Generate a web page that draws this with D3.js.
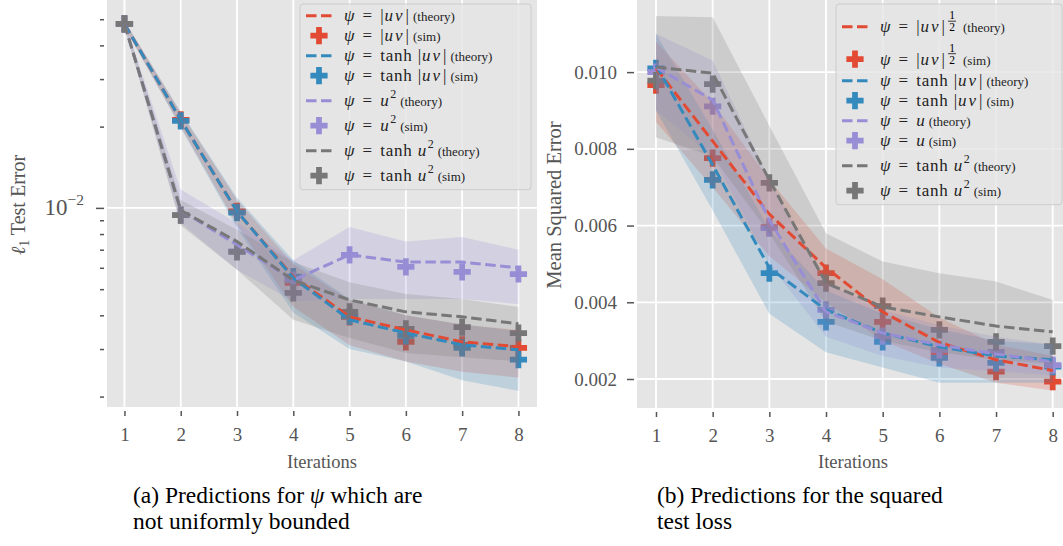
<!DOCTYPE html>
<html>
<head>
<meta charset="utf-8">
<script src="https://cdnjs.cloudflare.com/ajax/libs/d3/7.8.5/d3.min.js"></script>
<style>
body { margin: 0; background: #fff; }
text { font-family: "Liberation Serif", "Times New Roman", serif; }
</style>
</head>
<body>
<script>
var iterations = [1, 2, 3, 4, 5, 6, 7, 8];
var colors = ["#E24A33", "#348ABD", "#988ED5", "#777777"];

// (a) l1 test error, series order: |uv|, tanh|uv|, u^2, tanh u^2
var leftExpr = ["|uv|", "tanh |uv|", "u", "tanh u"];
var leftSup = ["", "", "2", "2"];
var leftTheory = [
    [0.0480, 0.0212, 0.0097, 0.00555, 0.00395, 0.00353, 0.00319, 0.00306],
    [0.0480, 0.0212, 0.0097, 0.0055, 0.00385, 0.00344, 0.00311, 0.00298],
    [0.0480, 0.0098, 0.0073, 0.0054, 0.0067, 0.0063, 0.0063, 0.0060],
    [0.0480, 0.0098, 0.0075, 0.0054, 0.00456, 0.00412, 0.00395, 0.00372]
];
var leftSim = [
    [0.0480, 0.0212, 0.0097, 0.00527, 0.00395, 0.00319, 0.00311, 0.00303],
    [0.0480, 0.0210, 0.0096, 0.00556, 0.00396, 0.00336, 0.00303, 0.00274],
    [0.0480, 0.0094, 0.0069, 0.0054, 0.0067, 0.00605, 0.00579, 0.00569],
    [0.0480, 0.0094, 0.00687, 0.00484, 0.00412, 0.00356, 0.00362, 0.00344]
];
var leftLo = [
    [0.0468, 0.0200, 0.00865, 0.0043, 0.0031, 0.0027, 0.00247, 0.00235],
    [0.0468, 0.0198, 0.0084, 0.0041, 0.0030, 0.0027, 0.0023, 0.0021],
    [0.0468, 0.0088, 0.0059, 0.0045, 0.0046, 0.0046, 0.0046, 0.0044],
    [0.0468, 0.0086, 0.0059, 0.00385, 0.0033, 0.0029, 0.0028, 0.0027]
];
var leftHi = [
    [0.0493, 0.0225, 0.0107, 0.0062, 0.00456, 0.0040, 0.0037, 0.00353],
    [0.0493, 0.0227, 0.0109, 0.0064, 0.0046, 0.0040, 0.0037, 0.0035],
    [0.0493, 0.0117, 0.0088, 0.0064, 0.0085, 0.0075, 0.0078, 0.0070],
    [0.0493, 0.0107, 0.0083, 0.0063, 0.0053, 0.0048, 0.0046, 0.0043]
];
var leftMinorTicks = [0.002, 0.003, 0.004, 0.005, 0.006, 0.007, 0.008, 0.009, 0.02, 0.03, 0.04, 0.05];

// (b) mean squared error, series order: |uv|^(1/2), tanh|uv|, u, tanh u^2
var rightExpr = ["|uv|", "tanh |uv|", "u", "tanh u"];
var rightSup = ["1/2", "", "", "2"];
var rightTheory = [
    [0.0101, 0.0082, 0.0063, 0.0049, 0.00375, 0.00295, 0.0025, 0.00222],
    [0.01018, 0.00758, 0.0049, 0.0038, 0.0032, 0.00284, 0.0026, 0.0025],
    [0.01013, 0.00927, 0.00614, 0.00375, 0.0032, 0.00289, 0.00265, 0.00245],
    [0.01013, 0.00997, 0.00719, 0.0045, 0.00388, 0.00362, 0.00338, 0.00323]
];
var rightSim = [
    [0.00966, 0.00776, 0.00596, 0.00476, 0.00349, 0.0027, 0.00219, 0.00193],
    [0.0101, 0.00719, 0.00476, 0.00349, 0.00297, 0.00255, 0.00242, 0.00232],
    [0.0100, 0.00911, 0.00593, 0.0038, 0.00312, 0.00276, 0.00271, 0.00236],
    [0.00978, 0.00969, 0.00711, 0.0045, 0.0039, 0.00328, 0.00297, 0.00286]
];
var rightLo = [
    [0.0087, 0.0070, 0.0052, 0.0040, 0.0030, 0.0024, 0.0019, 0.0017],
    [0.0090, 0.0064, 0.0037, 0.0027, 0.0023, 0.0019, 0.0019, 0.0019],
    [0.0090, 0.0078, 0.0050, 0.0031, 0.0026, 0.0023, 0.0022, 0.0021],
    [0.0083, 0.0078, 0.0058, 0.0035, 0.0030, 0.0027, 0.0025, 0.0024]
];
var rightHi = [
    [0.0108, 0.0092, 0.0072, 0.0054, 0.0046, 0.0036, 0.0029, 0.0026],
    [0.0110, 0.0085, 0.0059, 0.0043, 0.0037, 0.0033, 0.0030, 0.0029],
    [0.0110, 0.0103, 0.0072, 0.0045, 0.0038, 0.0034, 0.0031, 0.0029],
    [0.01146, 0.01143, 0.0086, 0.0058, 0.00506, 0.00476, 0.00454, 0.00406]
];
var rightTicks = [0.002, 0.004, 0.006, 0.008, 0.010];

var svg = d3.select("body").append("svg")
    .attr("width", 1063)
    .attr("height", 546);

var plusSymbol = d3.symbol().type(d3.symbolCross).size(165);

function drawPanel(id, x, y) {
    var x0 = x.range()[0], x1 = x.range()[1];
    var yb = y.range()[0];

    svg.append("rect")
        .attr("x", x0).attr("y", 0)
        .attr("width", x1 - x0).attr("height", yb)
        .style("fill", "#E5E5E5");

    svg.append("clipPath").attr("id", id)
        .append("rect")
        .attr("x", x0).attr("y", 0)
        .attr("width", x1 - x0).attr("height", yb);

    var grid = svg.append("g");
    grid.selectAll(".vg").data(iterations).enter().append("line")
        .attr("x1", function(d) { return x(d); })
        .attr("x2", function(d) { return x(d); })
        .attr("y1", 0).attr("y2", yb)
        .style("stroke", "#fff").style("stroke-width", 1.8);

    var plot = svg.append("g").attr("clip-path", "url(#" + id + ")");
    return {grid: grid, plot: plot};
}

function drawSeries(plot, x, y, theory, sim, lo, hi) {
    // markers first, then bands, then theory lines on top
    sim.forEach(function(s, k) {
        plot.selectAll(".m" + k).data(s).enter().append("path")
            .attr("d", plusSymbol)
            .attr("transform", function(d, i) { return "translate(" + x(iterations[i]) + "," + y(d) + ")"; })
            .style("fill", colors[k]);
    });

    lo.forEach(function(l, k) {
        var band = d3.area()
            .x(function(d, i) { return x(iterations[i]); })
            .y0(function(d, i) { return y(l[i]); })
            .y1(function(d, i) { return y(hi[k][i]); });
        plot.append("path")
            .datum(l)
            .attr("d", band)
            .style("fill", colors[k])
            .style("fill-opacity", 0.22);
    });

    theory.forEach(function(t, k) {
        var line = d3.line()
            .x(function(d, i) { return x(iterations[i]); })
            .y(function(d) { return y(d); });
        plot.append("path")
            .datum(t)
            .attr("d", line)
            .style("fill", "none")
            .style("stroke", colors[k])
            .style("stroke-width", 3)
            .style("stroke-dasharray", "10.5,4.5");
    });
}

function xAxis(x, yb) {
    var ax = svg.append("g")
        .attr("transform", "translate(0," + (yb + 4) + ")")
        .call(d3.axisBottom(x).tickValues(iterations).tickSize(5).tickPadding(12));
    ax.select(".domain").remove();
    ax.selectAll("line").style("stroke", "#555").style("stroke-width", 1.5);
    ax.selectAll("text").style("font-size", "19px").style("fill", "#555")
        .style("font-family", "Liberation Serif");
}

function labelPieces(expr, sup, kind) {
    var p = [{t: "ψ", it: true, s: 17, gap: 0}, {t: "=", s: 17, gap: 8}];
    expr.split(" ").forEach(function(tok, k) {
        var gap = k == 0 ? 8 : 5;
        if (tok == "tanh") {
            p.push({t: "tanh", s: 17, gap: gap, ls: 0.8});
        } else if (tok == "|uv|") {
            p.push({t: "|", s: 17, gap: gap});
            p.push({t: "uv", it: true, s: 17, gap: 1, ls: 2});
            p.push({t: "|", s: 17, gap: 1});
        } else {
            p.push({t: tok, it: true, s: 17, gap: gap});
        }
    });
    if (sup == "2") p.push({t: "2", s: 12, gap: 1.5, dy: -8});
    if (sup == "1/2") p.push({frac: true, gap: 3});
    p.push({t: "(" + kind + ")", s: 13, gap: sup == "1/2" ? 7 : 4});
    return p;
}

function drawLabel(g, x, cy, pieces) {
    var cx = x, base = cy + 5.5;
    pieces.forEach(function(p) {
        cx += p.gap;
        if (p.frac) {
            g.append("text").attr("x", cx + 4).attr("y", cy - 7.5)
                .style("font-size", "11.5px").style("text-anchor", "middle").text("1");
            g.append("line").attr("x1", cx).attr("x2", cx + 8)
                .attr("y1", cy - 5.5).attr("y2", cy - 5.5)
                .style("stroke", "#222").style("stroke-width", 0.9);
            g.append("text").attr("x", cx + 4).attr("y", cy + 4.5)
                .style("font-size", "11.5px").style("text-anchor", "middle").text("2");
            cx += 8;
        } else {
            var t = g.append("text")
                .attr("x", cx).attr("y", base + (p.dy || 0))
                .style("font-size", p.s + "px")
                .style("font-style", p.it ? "italic" : "normal")
                .style("letter-spacing", (p.ls || 0) + "px")
                .style("fill", "#222")
                .text(p.t);
            cx += t.node().getComputedTextLength();
        }
    });
}

function drawLegend(bx, bw, exprs, sups) {
    var g = svg.append("g");
    var rows = [];
    exprs.forEach(function(e, k) {
        ["theory", "sim"].forEach(function(kind) {
            rows.push({k: k, kind: kind, expr: e, sup: sups[k]});
        });
    });
    var top = 5.7;
    rows.forEach(function(r) {
        var h = r.sup == "1/2" ? 32.5 : (r.sup ? 25 : 20);
        var off = r.sup == "1/2" ? 21 : (r.sup ? 15 : 10);
        r.cy = top + off;
        top += h;
    });
    g.append("rect")
        .attr("x", bx).attr("y", 4)
        .attr("width", bw).attr("height", top)
        .attr("rx", 3)
        .style("fill", "#E5E5E5").style("fill-opacity", 0.8)
        .style("stroke", "#CCCCCC").style("stroke-width", 1);
    rows.forEach(function(r) {
        if (r.kind == "theory") {
            g.append("line")
                .attr("x1", bx + 6).attr("x2", bx + 32)
                .attr("y1", r.cy).attr("y2", r.cy)
                .style("stroke", colors[r.k]).style("stroke-width", 3)
                .style("stroke-dasharray", "10.5,4.5");
        } else {
            g.append("path")
                .attr("d", plusSymbol)
                .attr("transform", "translate(" + (bx + 19) + "," + r.cy + ")")
                .style("fill", colors[r.k]);
        }
        drawLabel(g, bx + 44, r.cy, labelPieces(r.expr, r.sup, r.kind));
    });
}

// ---- (a) left panel
var xl = d3.scaleLinear().domain([0.69, 8.33]).range([107, 537]);
var yl = d3.scaleLog().domain([0.00183, 0.0589]).range([407, 0]);
var pl = drawPanel("clipL", xl, yl);
pl.grid.append("line")
    .attr("x1", 107).attr("x2", 537)
    .attr("y1", yl(0.01)).attr("y2", yl(0.01))
    .style("stroke", "#fff").style("stroke-width", 1.8);
drawSeries(pl.plot, xl, yl, leftTheory, leftSim, leftLo, leftHi);
xAxis(xl, 407);

var ylMinor = svg.append("g")
    .attr("transform", "translate(104,0)")
    .call(d3.axisLeft(yl).tickValues(leftMinorTicks).tickSize(4).tickFormat(""));
var ylMajor = svg.append("g")
    .attr("transform", "translate(104,0)")
    .call(d3.axisLeft(yl).tickValues([0.01]).tickSize(8).tickFormat(""));
[ylMinor, ylMajor].forEach(function(a) {
    a.select(".domain").remove();
    a.selectAll("line").style("stroke", "#555").style("stroke-width", 1.5);
});
var lab = svg.append("text")
    .attr("x", 84).attr("y", yl(0.01) + 7)
    .style("text-anchor", "end")
    .style("fill", "#555");
lab.append("tspan").style("font-size", "23px").text("10");
lab.append("tspan").attr("dy", -10).style("font-size", "15.5px").text("−2");

var ylab = svg.append("text")
    .attr("transform", "translate(25,205) rotate(-90)")
    .style("text-anchor", "middle")
    .style("font-size", "20px")
    .style("fill", "#555");
ylab.append("tspan").style("font-style", "italic").text("ℓ");
ylab.append("tspan").attr("dy", 4).style("font-size", "14px").text("1");
ylab.append("tspan").attr("dy", -4).text(" Test Error");

svg.append("text")
    .attr("x", 322).attr("y", 468)
    .style("text-anchor", "middle")
    .style("font-size", "18.5px").style("fill", "#555")
    .text("Iterations");

drawLegend(300, 231, leftExpr, leftSup);

// ---- (b) right panel
var xr = d3.scaleLinear().domain([0.665, 8.335]).range([637, 1071.7]);
var yr = d3.scaleLinear().domain([0.001244, 0.01188]).range([408, 0]);
var pr = drawPanel("clipR", xr, yr);
pr.grid.selectAll(".hg").data(rightTicks).enter().append("line")
    .attr("x1", 637).attr("x2", 1071.7)
    .attr("y1", function(d) { return yr(d); })
    .attr("y2", function(d) { return yr(d); })
    .style("stroke", "#fff").style("stroke-width", 1.8);
drawSeries(pr.plot, xr, yr, rightTheory, rightSim, rightLo, rightHi);
xAxis(xr, 408);

var yrAx = svg.append("g")
    .attr("transform", "translate(634,0)")
    .call(d3.axisLeft(yr).tickValues(rightTicks).tickSize(7).tickPadding(10).tickFormat(d3.format(".3f")));
yrAx.select(".domain").remove();
yrAx.selectAll("line").style("stroke", "#555").style("stroke-width", 1.5);
yrAx.selectAll("text").style("font-size", "19px").style("fill", "#555")
    .style("font-family", "Liberation Serif");

svg.append("text")
    .attr("transform", "translate(561,205) rotate(-90)")
    .style("text-anchor", "middle")
    .style("font-size", "20.5px")
    .style("fill", "#555")
    .text("Mean Squared Error");

svg.append("text")
    .attr("x", 853).attr("y", 468)
    .style("text-anchor", "middle")
    .style("font-size", "18.5px").style("fill", "#555")
    .text("Iterations");

drawLegend(836, 226, rightExpr, rightSup);

// ---- captions
var capA = svg.append("text").attr("x", 133).attr("y", 503).style("font-size", "23.5px");
capA.append("tspan").text("(a) Predictions for ");
capA.append("tspan").style("font-style", "italic").text("ψ");
capA.append("tspan").text(" which are");
svg.append("text").attr("x", 133).attr("y", 529).style("font-size", "23.5px")
    .text("not uniformly bounded");

svg.append("text").attr("x", 657).attr("y", 503).style("font-size", "23.5px")
    .text("(b) Predictions for the squared");
svg.append("text").attr("x", 657).attr("y", 529).style("font-size", "23.5px")
    .text("test loss");
</script>
</body>
</html>
